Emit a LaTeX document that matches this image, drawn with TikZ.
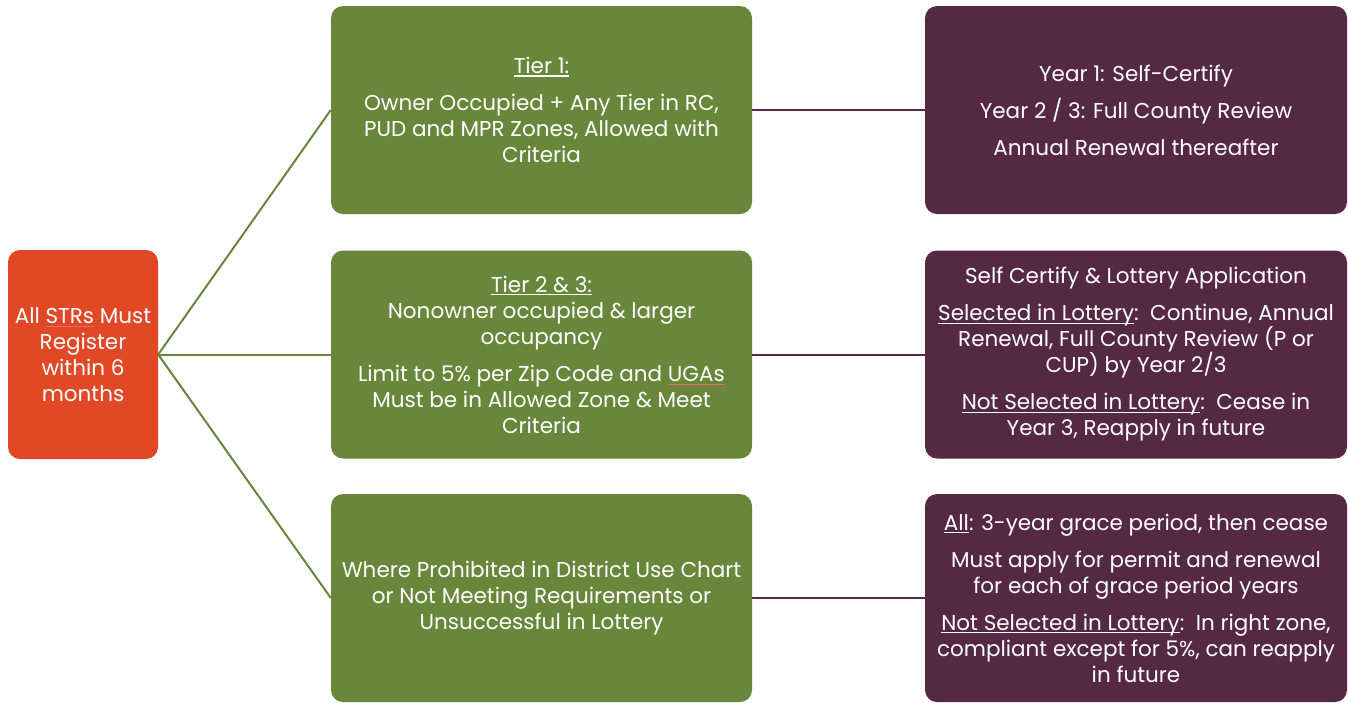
\documentclass[tikz,border=0pt]{standalone}
\usepackage{fontspec}
\setmainfont{Poppins}
\definecolor{regred}{HTML}{E04826}
\definecolor{tiergreen}{HTML}{68873A}
\definecolor{outpurple}{HTML}{552944}
\definecolor{spellred}{HTML}{E07070}
\newsavebox\ulbox
\newcommand\ul[1]{\sbox\ulbox{#1}\rlap{\rule[-3pt]{\wd\ulbox}{1.3pt}}\usebox\ulbox}
\newcommand\spellmark[1]{\sbox\ulbox{#1}\rlap{\textcolor{spellred}{\rule[-3.5pt]{\wd\ulbox}{0.8pt}}}\usebox\ulbox}
\tikzset{
  boxbase/.style={rectangle, rounded corners=12pt, text=white, align=center,
    font=\fontsize{21.5}{26}\selectfont, inner sep=0pt},
  regbox/.style={boxbase, fill=regred, minimum width=150pt, minimum height=209pt},
  tierbox/.style={boxbase, fill=tiergreen, minimum width=421pt, minimum height=208pt},
  outbox/.style={boxbase, fill=outpurple, minimum width=422pt, minimum height=208pt},
  greenline/.style={draw=tiergreen, line width=2pt},
  purpleline/.style={draw=outpurple, line width=2pt}
}
\begin{document}
\begin{tikzpicture}[x=1pt,y=-1pt]
\useasboundingbox (0,0) rectangle (1348,702);
\node[regbox] (reg) at (83,354.5) {All \spellmark{STRs} Must\\Register\\within 6\\months};

\node[tierbox] (t1) at (541.5,110) {\ul{Tier 1:}\\[11pt]Owner Occupied + Any Tier in RC,\\PUD and MPR Zones, Allowed with\\Criteria};
\node[tierbox] (t2) at (541.5,354.5) {\ul{Tier 2 \& 3:}\\Nonowner occupied \& larger\\occupancy\\[11pt]Limit to 5\% per Zip Code and \spellmark{UGAs}\\Must be in Allowed Zone \& Meet\\Criteria};
\node[tierbox] (t3) at (541.5,598) {Where Prohibited in District Use Chart\\or Not Meeting Requirements or\\Unsuccessful in Lottery};

\node[outbox] (o1) at (1136,110) {Year 1: Self-Certify\\[11pt]Year 2 / 3: Full County Review\\[11pt]Annual Renewal thereafter};
\node[outbox] (o2) at (1136,354.5) {Self Certify \& Lottery Application\\[11pt]\ul{Selected in Lottery}:\ \ Continue, Annual\\Renewal, Full County Review (P or\\CUP) by Year 2/3\\[11pt]\ul{Not Selected in Lottery}:\ \ Cease in\\Year 3, Reapply in future};
\node[outbox] (o3) at (1136,598) {\ul{All}: 3-year grace period, then cease\\[11pt]Must apply for permit and renewal\\for each of grace period years\\[11pt]\ul{Not Selected in Lottery}:\ \ In right zone,\\compliant except for 5\%, can reapply\\in future};

\draw[greenline] (reg.east) -- (t1.west);
\draw[greenline] (reg.east) -- (t2.west);
\draw[greenline] (reg.east) -- (t3.west);
\draw[purpleline] (t1.east) -- (o1.west);
\draw[purpleline] (t2.east) -- (o2.west);
\draw[purpleline] (t3.east) -- (o3.west);
\end{tikzpicture}
\end{document}
